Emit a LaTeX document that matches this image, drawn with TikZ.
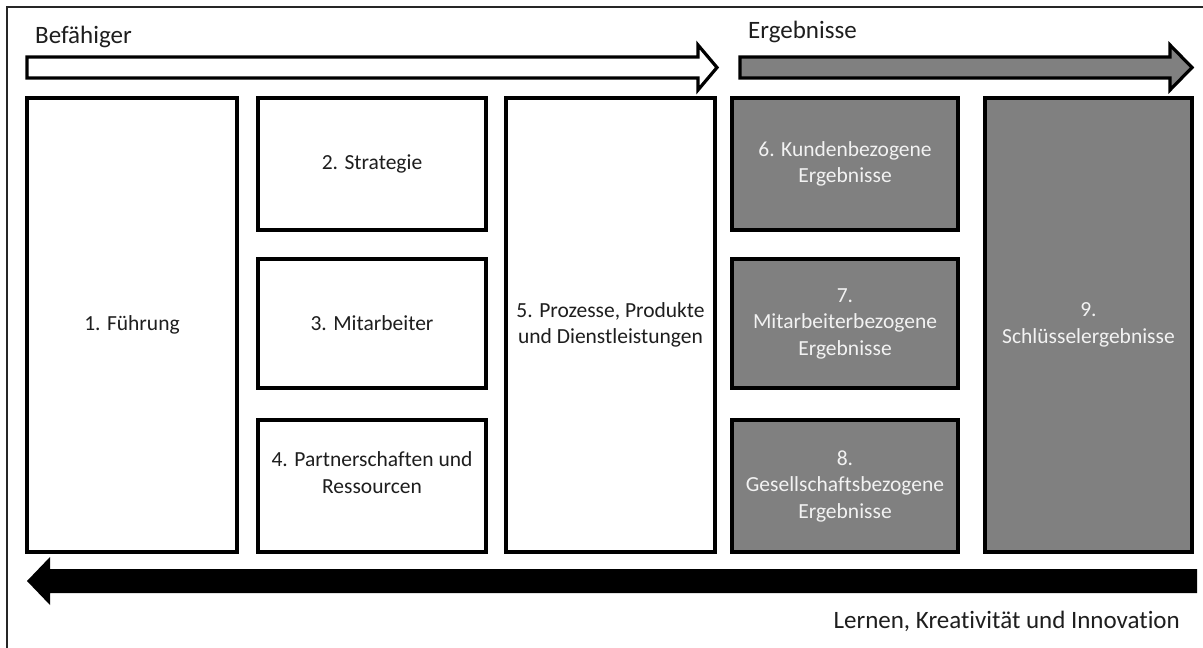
\documentclass[tikz,border=0pt]{standalone}
\usepackage{fontspec}
\setmainfont{Carlito}[Ligatures=NoCommon]
\definecolor{boxgray}{HTML}{808080}
\definecolor{txtdark}{HTML}{1E1E1E}
\definecolor{txtlight}{HTML}{F2F2F2}
\begin{document}
\begin{tikzpicture}[x=1pt,y=-1pt,
  panel/.style={draw=black,line width=3.4pt,inner sep=0pt,outer sep=0pt,
    align=center,font=\fontsize{21.5}{26.5}\selectfont},
  enabler/.style={panel,fill=white,text=txtdark},
  result/.style={panel,fill=boxgray,text=txtlight},
  heading/.style={font=\fontsize{25}{30}\selectfont,text=txtdark,inner sep=0pt}]
\useasboundingbox (0,0) rectangle (1203,648);
\fill[white] (0,0) rectangle (1203,648);
% outer frame
\draw[line width=1.6pt,black!85] (7,648) -- (7,7) -- (1203,7);

% headings
\node[heading,anchor=base west] (enab) at (35,43) {Befähiger};
\node[heading,anchor=base west] (res) at (748,38) {Ergebnisse};
\node[heading,anchor=base east] (learn) at (1180,628) {Lernen, Kreativität und Innovation};

% block arrows
\draw[line width=3.2pt,fill=white,line join=miter]
  (27,57) -- (698,57) -- (698,45) -- (717,67.5) -- (698,90) -- (698,78) -- (27,78) -- cycle;
\draw[line width=3.2pt,fill=boxgray,line join=miter]
  (740,57) -- (1170,57) -- (1170,45) -- (1192,67.5) -- (1170,90) -- (1170,78) -- (740,78) -- cycle;
\fill[black]
  (1197,569) -- (50,569) -- (50,557) -- (27,581) -- (50,605) -- (50,593) -- (1197,593) -- cycle;

% enablers
\node[enabler,minimum width=210pt,minimum height=454pt] (b1) at (132,325) {1. Führung};
\node[enabler,minimum width=228pt,minimum height=132pt] (b2) at (372,164) {2. Strategie};
\node[enabler,minimum width=228pt,minimum height=129pt] (b3) at (372,323.5) {3. Mitarbeiter};
\node[enabler,minimum width=228pt,minimum height=132pt] (b4) at (372,486) {4. Partnerschaften und\\Ressourcen\\\mbox{}};
\node[enabler,minimum width=209pt,minimum height=454pt] (b5) at (610.5,325) {5. Prozesse, Produkte\\und Dienstleistungen};

% results
\node[result,minimum width=226pt,minimum height=132pt] (b6) at (845,164) {6. Kundenbezogene\\Ergebnisse};
\node[result,minimum width=226pt,minimum height=129pt] (b7) at (845,323.5) {7.\\Mitarbeiterbezogene\\Ergebnisse};
\node[result,minimum width=226pt,minimum height=132pt] (b8) at (845,486) {8.\\Gesellschaftsbezogene\\Ergebnisse};
\node[result,minimum width=207pt,minimum height=454pt] (b9) at (1088.5,325) {9.\\Schlüsselergebnisse};
\end{tikzpicture}
\end{document}
